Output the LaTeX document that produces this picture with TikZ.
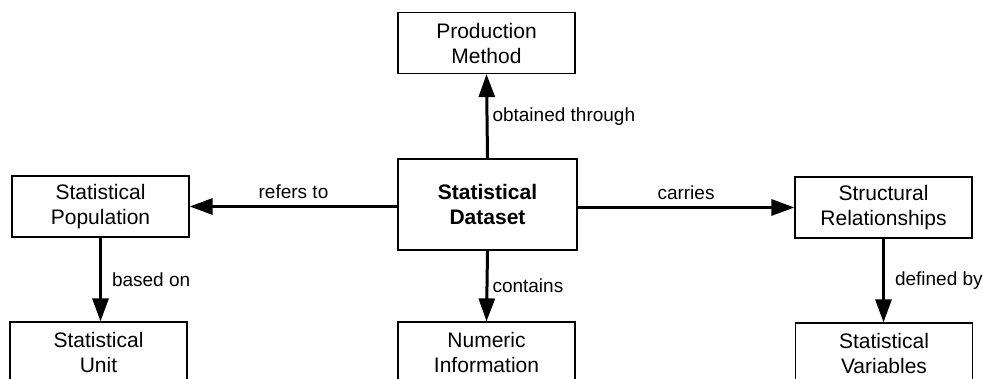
\documentclass[tikz,border=0pt]{standalone}
\usepackage{fontspec}
\setmainfont{Liberation Sans}
\usetikzlibrary{arrows.meta}

\tikzset{
	concept/.style={draw, line width=0.6pt, minimum width=88.5pt, minimum height=30.5pt,
		inner sep=0pt, align=center, font=\fontsize{10.5}{12.5}\selectfont},
	relation/.style={line width=1.5pt, -{Triangle[length=11.5pt,width=8pt]}},
	rellabel/.style={font=\fontsize{9.5}{11}\selectfont, inner sep=2pt}
}

\begin{document}
\begin{tikzpicture}[x=0.5pt,y=-0.5pt]
	\useasboundingbox (0,0) rectangle (983,379);
	\clip (0,0) rectangle (983,379);

	% concepts
	\node[concept] (method) at (486.5,43) {Production\\Method};
	\node[concept, minimum width=89.5pt, minimum height=45.5pt,
		font=\fontsize{10.5}{12.5}\selectfont\bfseries] (dataset) at (487.5,204.5) {Statistical\\Dataset};
	\node[concept] (population) at (100.5,206.5) {Statistical\\Population};
	\node[concept] (unit) at (98.5,352.5) {Statistical\\Unit};
	\node[concept] (structure) at (883.5,207.5) {Structural\\Relationships};
	\node[concept] (variables) at (884,353.5) {Statistical\\Variables};
	\node[concept] (numeric) at (486.5,352.5) {Numeric\\Information};

	% relations
	\draw[relation] (dataset.north) -- node[rellabel, right] {obtained through} (method.south);
	\draw[relation] (dataset.west |- population.east) -- node[rellabel, above=1pt] {refers to} (population.east);
	\draw[relation] (dataset.east |- structure.west) -- node[rellabel, above=1pt] {carries} (structure.west);
	\draw[relation] (dataset.south) -- node[rellabel, right] {contains} (numeric.north);
	\draw[relation] (population.south) -- node[rellabel, right=3pt] {based on} (population.south |- unit.north);
	\draw[relation] (structure.south) -- node[rellabel, right=3pt] {defined by} (structure.south |- variables.north);
\end{tikzpicture}
\end{document}
